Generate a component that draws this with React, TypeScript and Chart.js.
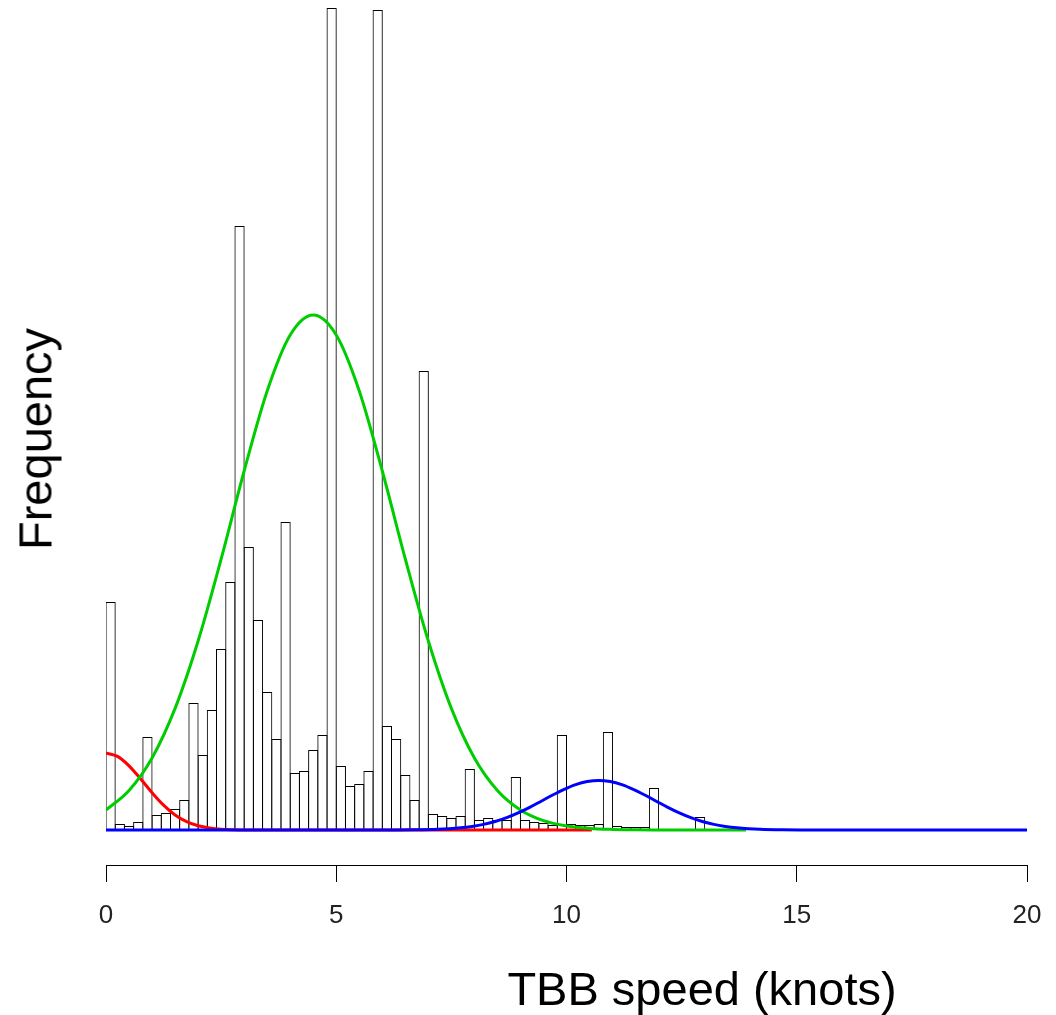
import React, { useEffect, useRef } from "react";
import { Chart, registerables } from "chart.js";

Chart.register(...registerables);

// Histogram: bins of 0.2 knots starting at 0
const BIN_WIDTH = 0.2;
const binCounts = [
  228, 6, 4, 8, 93, 15, 17, 21, 30, 127,
  75, 120, 181, 248, 604, 283, 210, 138, 91, 308,
  57, 59, 80, 95, 822, 64, 44, 46, 59, 820,
  104, 91, 55, 30, 459, 16, 14, 12, 14, 61,
  10, 12, 10, 10, 53, 10, 8, 7, 5, 95,
  6, 5, 5, 6, 98, 4, 3, 3, 3, 42,
  0, 0, 0, 0, 13,
];

// Fitted component curves
const redX = [0, 0.25, 0.5, 0.75, 1, 1.25, 1.5, 1.75, 2, 2.25, 2.5, 2.75, 3, 10.55];
const redY = [77, 73.6, 64.2, 51.2, 37.3, 24.8, 15, 8.3, 4.2, 2, 0.8, 0.3, 0.1, 0];

const greenX = [0, 0.5, 1, 1.5, 2, 2.5, 3, 3.5, 4, 4.5, 5, 5.5, 6, 6.5, 7, 7.5, 8, 8.5, 9, 9.5, 10, 10.5, 11, 11.5, 12, 13.9];
const greenY = [20, 39.5, 72, 121.6, 189, 271, 359, 439, 495, 515, 495, 439, 359, 271, 189, 121.6, 72, 39.5, 20, 9.3, 4, 1.6, 0.6, 0.2, 0.1, 0];

const blueX = [0, 5.9, 6.2, 6.7, 7.2, 7.45, 7.7, 7.95, 8.2, 8.45, 8.7, 8.95, 9.2, 9.45, 9.7, 9.95, 10.2, 10.45, 10.7, 10.95, 11.2, 11.45, 11.7, 11.95, 12.2, 12.45, 12.7, 12.95, 13.2, 13.45, 13.7, 13.95, 14.2, 14.7, 15.2, 16, 20];
const blueY = [0, 0.02, 0.05, 0.2, 0.7, 1.3, 2.2, 3.6, 5.6, 8.5, 12.3, 17.1, 22.7, 28.8, 35, 40.7, 45.4, 48.4, 49.5, 48.4, 45.4, 40.7, 35, 28.8, 22.7, 17.1, 12.3, 8.5, 5.6, 3.6, 2.2, 1.3, 0.7, 0.2, 0.05, 0, 0];

const xTicks = [0, 5, 10, 15, 20];
const xLabel = "TBB speed (knots)";
const yLabel = "Frequency";

const FONT = "'Liberation Sans', Arial, Helvetica, sans-serif";

export default function App() {
  const canvasRef = useRef<HTMLCanvasElement | null>(null);

  useEffect(() => {
    const canvas = canvasRef.current;
    if (!canvas) return;

    const bars = binCounts.map((c, i) => ({ x: BIN_WIDTH * i + BIN_WIDTH / 2, y: c }));
    const toPts = (xs: number[], ys: number[]) => xs.map((x, i) => ({ x, y: ys[i] }));

    const lineCommon = {
      type: "line" as const,
      pointRadius: 0,
      borderWidth: 3,
      fill: false,
      cubicInterpolationMode: "monotone" as const,
    };

    const chart = new Chart(canvas, {
      type: "bar",
      data: {
        datasets: [
          {
            type: "bar",
            data: bars as any,
            backgroundColor: "rgba(0,0,0,0)",
            borderColor: "#000",
            borderWidth: 1,
            barPercentage: 1.11,
            categoryPercentage: 1,
            inflateAmount: 0,
            order: 4,
          } as any,
          { ...lineCommon, data: toPts(redX, redY), borderColor: "#FF0000", order: 3 } as any,
          { ...lineCommon, data: toPts(greenX, greenY), borderColor: "#00CD00", order: 2 } as any,
          { ...lineCommon, data: toPts(blueX, blueY), borderColor: "#0000FF", order: 1 } as any,
        ],
      },
      options: {
        responsive: false,
        animation: false,
        events: [],
        layout: { padding: { left: 106, right: 29, top: 0, bottom: 80 } },
        plugins: { legend: { display: false }, tooltip: { enabled: false }, title: { display: false } },
        scales: {
          x: {
            type: "linear",
            min: 0,
            max: 20,
            offset: false,
            afterBuildTicks: (s: any) => {
              s.ticks = xTicks.map((v) => ({ value: v }));
            },
            afterFit: (s: any) => {
              s.height = 70;
              s.paddingLeft = 0;
              s.paddingRight = 0;
            },
            grid: {
              offset: false,
              drawOnChartArea: false,
              drawTicks: true,
              tickLength: 17,
              color: "#000",
              tickColor: "#000",
              lineWidth: 1,
            },
            border: { display: true, color: "#000", width: 1 },
            ticks: {
              color: "#222",
              font: { family: FONT, size: 26 },
              padding: 18,
              maxRotation: 0,
              autoSkip: false,
            },
          },
          y: {
            type: "linear",
            display: false,
            min: -35,
            max: 830,
          },
        },
      } as any,
    });

    return () => chart.destroy();
  }, []);

  return (
    <div
      style={{
        position: "fixed",
        left: 0,
        top: 0,
        width: 1056,
        height: 1015,
        background: "#fff",
        overflow: "hidden",
      }}
    >
      <canvas
        ref={canvasRef}
        width={1056}
        height={1015}
        style={{ position: "absolute", left: 0, top: 0, display: "block" }}
      />
      <div
        style={{
          position: "absolute",
          left: 35.4,
          top: 439,
          transform: "translate(-50%, -50%) rotate(-90deg)",
          fontFamily: FONT,
          fontSize: 47,
          lineHeight: "47px",
          whiteSpace: "nowrap",
          color: "#000",
        }}
      >
        {yLabel}
      </div>
      <div
        style={{
          position: "absolute",
          left: 702,
          top: 965.2,
          transform: "translateX(-50%)",
          fontFamily: FONT,
          fontSize: 47,
          lineHeight: "47px",
          whiteSpace: "nowrap",
          color: "#000",
        }}
      >
        {xLabel}
      </div>
    </div>
  );
}
